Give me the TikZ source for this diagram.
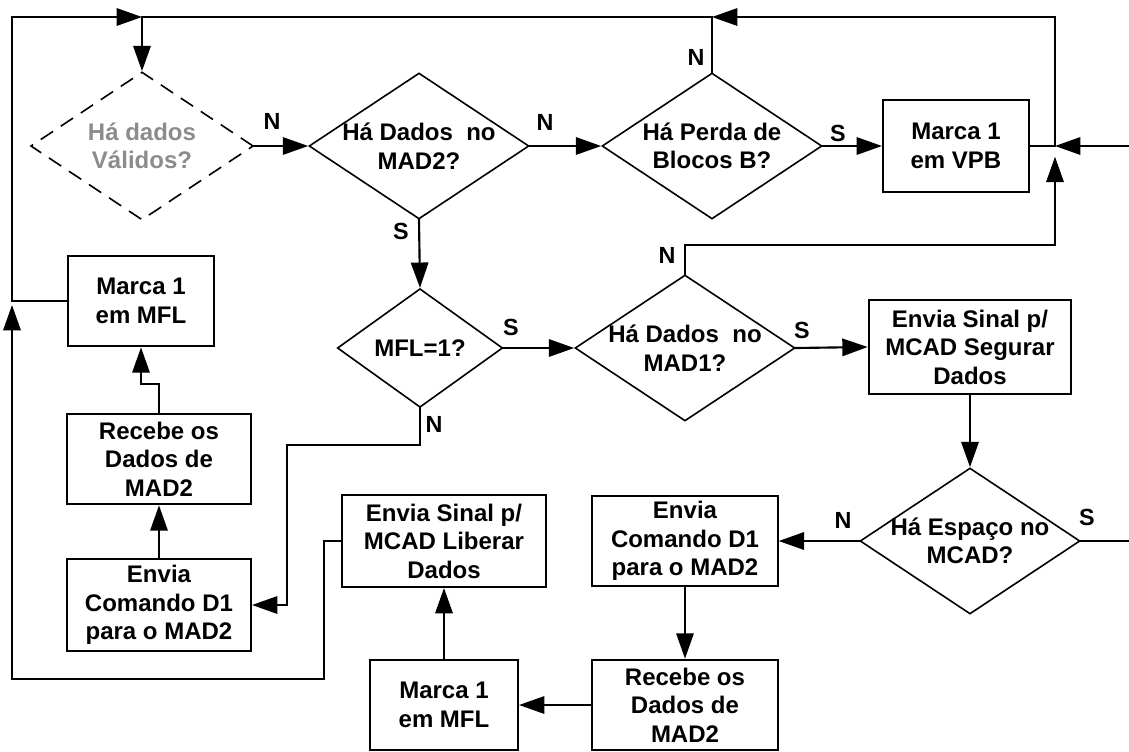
\documentclass[tikz,border=0pt]{standalone}
\usepackage{fontspec}
\setmainfont{Liberation Sans}
\usepackage{tikz}
\usetikzlibrary{arrows.meta,shapes.geometric}
\usetikzlibrary{positioning}
\definecolor{fadegray}{RGB}{140,140,140}

\begin{document}
\begin{tikzpicture}[x=0.75pt,y=-0.75pt]
\tikzstyle{every node}+=[inner sep=0pt, align=center, font=\bfseries\fontsize{18}{21.4}\selectfont]
\tikzstyle{dec}=[draw, diamond, line width=1.2pt, minimum width=165pt, minimum height=109.5pt]
\tikzstyle{proc}=[draw, rectangle, line width=1.5pt]
\tikzstyle{lab}=[font=\bfseries\fontsize{17.5}{20}\selectfont]
\tikzstyle{wire}=[line width=1.6pt, line cap=rect]
\tikzstyle{arr}=[wire, -{Triangle[length=19pt,width=13pt]}]
\useasboundingbox (0,0) rectangle (1129,751);
\node[dec, dash pattern=on 11pt off 7pt, minimum width=167pt, minimum height=111pt] (valid) at (142,146) {};
\draw (valid) node[text=fadegray] {Há dados\\Válidos?};
\node[dec] (mad2) at (419,146) {};
\draw (mad2) node {Há Dados\ \ no\\MAD2?};
\node[dec] (perda) at (712,146) {};
\draw (perda) node {Há Perda de\\Blocos B?};
\node[proc, minimum width=109.5pt, minimum height=69pt] (vpb) at (956,146) {Marca 1\\em VPB};
\node[dec, minimum width=124pt, minimum height=89pt] (mfl) at (420,348) {};
\draw (mfl) node {MFL=1?};
\node[dec] (mad1) at (685,348) {};
\draw (mad1) node {Há Dados\ \ no\\MAD1?};
\node[proc, minimum width=152pt, minimum height=70pt] (segurar) at (970,347) {Envia Sinal p/\\MCAD Segurar\\Dados};
\node[dec] (espaco) at (970,541) {};
\draw (espaco) node {Há Espaço no\\MCAD?};
\node[proc, minimum width=139pt, minimum height=68pt] (cmdR) at (685,541) {Envia\\Comando D1\\para o MAD2};
\node[proc, minimum width=139pt, minimum height=68pt] (rcbR) at (685,705) {Recebe os\\Dados de\\MAD2};
\node[proc, minimum width=111pt, minimum height=68pt] (mflB) at (444,705) {Marca 1\\em MFL};
\node[proc, minimum width=153pt, minimum height=69pt] (liberar) at (444,541) {Envia Sinal p/\\MCAD Liberar\\Dados};
\node[proc, minimum width=138pt, minimum height=69pt] (cmdL) at (159,605) {Envia\\Comando D1\\para o MAD2};
\node[proc, minimum width=138pt, minimum height=68pt] (rcbL) at (159,459) {Recebe os\\Dados de\\MAD2};
\node[proc, minimum width=110pt, minimum height=68pt] (mflL) at (141,301) {Marca 1\\em MFL};
\coordinate (tl) at (12,17);
\coordinate (tj) at (142,17);
\coordinate (tr) at (1055,17);
\coordinate (rj) at (1055,146);
\coordinate (rin) at (1129,146);
\coordinate (rout) at (1129,541);
\coordinate (bl) at (12,679);
\coordinate (lj) at (12,301);
\draw[arr] (tl) -- (tj);
\draw[arr] (tj) -- (valid.north);
\draw[arr] (valid.east) -- (mad2.west);
\node[lab] at (272,121) {N};
\draw[arr] (mad2.east) -- (perda.west);
\node[lab] at (545,122) {N};
\draw[arr] (mad2.south) -- (mfl.north);
\node[lab] at (401,231) {S};
\draw[arr] (perda.east) -- (vpb.west);
\node[lab] at (838,133) {S};
\draw[wire] (perda.north) |- (tj);
\node[lab] at (696,57) {N};
\draw[arr] (tr) -- (perda.north |- tr);
\draw[wire] (vpb.east) -- (rj) -- (tr);
\draw[arr] (rin) -- (rj);
\draw[arr, shorten >=8pt] (mad1.north) |- (1055,245) -- (rj);
\node[lab] at (667,255) {N};
\draw[arr] (mfl.east) -- (mad1.west);
\node[lab] at (511,327) {S};
\draw[arr] (mad1.east) -- (segurar.west);
\node[lab] at (802,330) {S};
\draw[arr] (segurar.south) -- (espaco.north);
\draw[arr] (espaco.west) -- (cmdR.east);
\node[lab] at (843,520) {N};
\draw[wire] (espaco.east) -- (rout);
\node[lab] at (1087,517) {S};
\draw[arr] (cmdR.south) -- (rcbR.north);
\draw[arr] (rcbR.west) -- (mflB.east);
\draw[arr] (mflB.north) -- (liberar.south);
\draw[arr, shorten >=3pt] (liberar.west) -| (324,679) -- (bl) -- (lj);
\draw[wire] (mflL.west) -- (lj) -- (tl);
\draw[arr] (cmdL.north) -- (rcbL.south);
\draw[arr] (rcbL.north) -- ++(0,-29) -| (mflL.south);
\draw[arr] (mfl.south) |- (287,445) |- (cmdL.east);
\node[lab] at (434,424) {N};
\end{tikzpicture}
\end{document}
